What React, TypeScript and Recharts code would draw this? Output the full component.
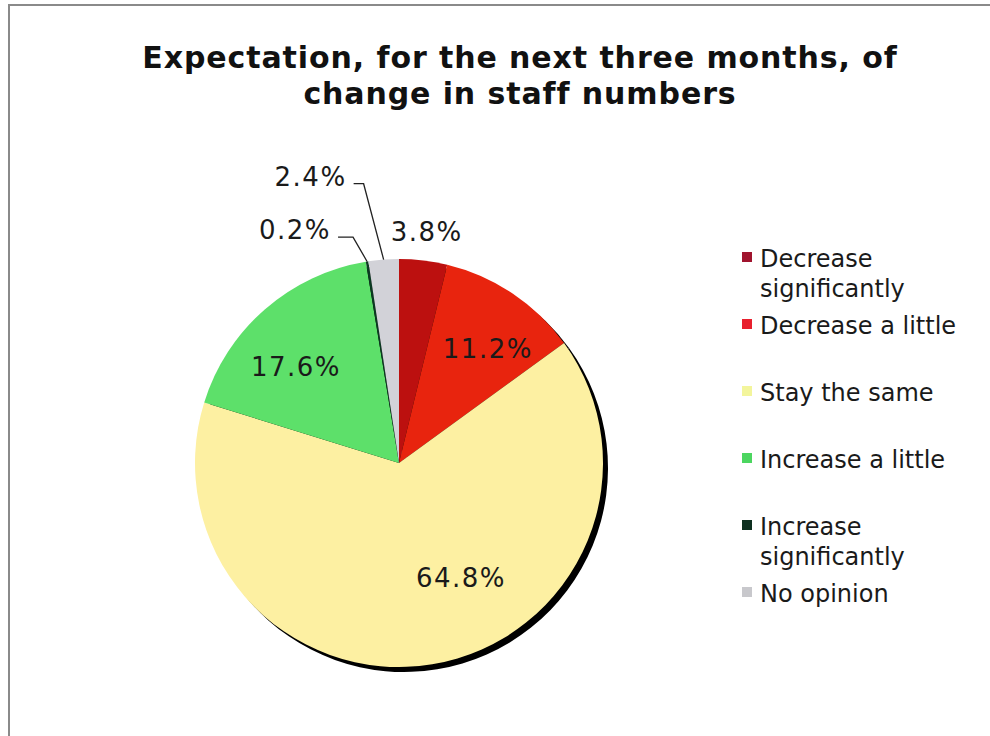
import { PieChart, Pie, Cell, Legend } from "recharts";

const categories = [
  "Decrease significantly",
  "Decrease a little",
  "Stay the same",
  "Increase a little",
  "Increase significantly",
  "No opinion",
];
const shares = [3.8, 11.2, 64.8, 17.6, 0.2, 2.4];

const sliceColors = ["#BC100F", "#E8240E", "#FDF0A2", "#5DE06A", "#0B3A22", "#D2D2D8"];
const legendColors = ["#A0142E", "#E8202E", "#F3F59C", "#4CD660", "#0E3020", "#C8C8CC"];

// how each slice gets its percentage label
const labelModes = ["outside", "inside", "inside", "inside", "leader", "leader"];
const labelRadius = [1.14, 0.71, 0.64, 0.69, 1.13, 1.38];
const labelNudge = [0, -4, 19, 6, 2.5, 2.9];
const leaderTail = [0, 0, 0, 0, 15, 10];

const data = categories.map((name, i) => ({ name, value: shares[i] }));

const RADIAN = Math.PI / 180;
const FONT = "'DejaVu Sans', Verdana, sans-serif";

const polar = (cx: number, cy: number, r: number, angle: number) => ({
  x: cx + r * Math.cos(-angle * RADIAN),
  y: cy + r * Math.sin(-angle * RADIAN),
});

const renderLabel = (props: any) => {
  const { cx, cy, midAngle, outerRadius, index } = props;
  const text = `${shares[index].toFixed(1)}%`;
  const mode = labelModes[index];
  const textStyle = { fontFamily: FONT, fontSize: 26, letterSpacing: 1.5 };

  if (mode === "leader") {
    const start = polar(cx, cy, outerRadius, midAngle);
    const elbow = polar(cx, cy, outerRadius * labelRadius[index], midAngle + labelNudge[index]);
    const tailX = elbow.x - leaderTail[index];
    return (
      <g>
        <polyline
          points={`${start.x},${start.y} ${elbow.x},${elbow.y} ${tailX},${elbow.y}`}
          fill="none"
          stroke="#222"
          strokeWidth={1.3}
        />
        <text
          x={tailX - 7}
          y={elbow.y - 7}
          textAnchor="end"
          dominantBaseline="central"
          fill="#1a1a1a"
          style={textStyle}
        >
          {text}
        </text>
      </g>
    );
  }

  const pos = polar(cx, cy, outerRadius * labelRadius[index], midAngle + labelNudge[index]);
  return (
    <text
      x={pos.x}
      y={pos.y}
      textAnchor="middle"
      dominantBaseline="central"
      fill="#1a1a1a"
      style={textStyle}
    >
      {text}
    </text>
  );
};

const renderLegend = () => (
  <div style={{ fontFamily: FONT }}>
    {categories.map((name, i) => (
      <div key={name} style={{ display: "flex", height: 67 }}>
        <span
          style={{
            width: 10,
            height: 10,
            marginTop: 8,
            marginRight: 8,
            background: legendColors[i],
            flexShrink: 0,
          }}
        />
        <div style={{ width: 215, fontSize: 24, lineHeight: "30px", color: "#1a1a1a" }}>
          {name}
        </div>
      </div>
    ))}
  </div>
);

const App = () => {
  return (
    <div
      style={{
        position: "absolute",
        left: 0,
        top: 0,
        width: 990,
        height: 736,
        overflow: "hidden",
        background: "#fff",
      }}
    >
      <div
        style={{
          position: "absolute",
          left: 8,
          top: 4,
          width: 1000,
          height: 800,
          border: "2px solid #8a8a8a",
        }}
      />
      <div
        style={{
          position: "absolute",
          left: 120,
          top: 40,
          width: 800,
          textAlign: "center",
          fontFamily: FONT,
          fontWeight: "bold",
          fontSize: 30,
          lineHeight: "36px",
          letterSpacing: 0.9,
          color: "#111",
        }}
      >
        Expectation, for the next three months, of
        <br />
        change in staff numbers
      </div>
      <div style={{ position: "absolute", left: 0, top: 0 }}>
        <PieChart width={990} height={736} margin={{ top: 0, right: 0, bottom: 0, left: 0 }}>
          {/* hard drop shadow behind the pie */}
          <Pie
            data={data}
            dataKey="value"
            nameKey="name"
            cx={404}
            cy={468}
            outerRadius={204}
            startAngle={90}
            endAngle={-270}
            stroke="none"
            fill="#000"
            legendType="none"
            isAnimationActive={false}
          />
          <Pie
            data={data}
            dataKey="value"
            nameKey="name"
            cx={399}
            cy={463}
            outerRadius={204}
            startAngle={90}
            endAngle={-270}
            stroke="none"
            label={renderLabel}
            labelLine={false}
            isAnimationActive={false}
          >
            {data.map((d, i) => (
              <Cell key={d.name} fill={sliceColors[i]} />
            ))}
          </Pie>
          <Legend
            layout="vertical"
            align="right"
            verticalAlign="top"
            content={renderLegend}
            wrapperStyle={{ left: 742, top: 244, width: 240 }}
          />
        </PieChart>
      </div>
    </div>
  );
};

export default App;
